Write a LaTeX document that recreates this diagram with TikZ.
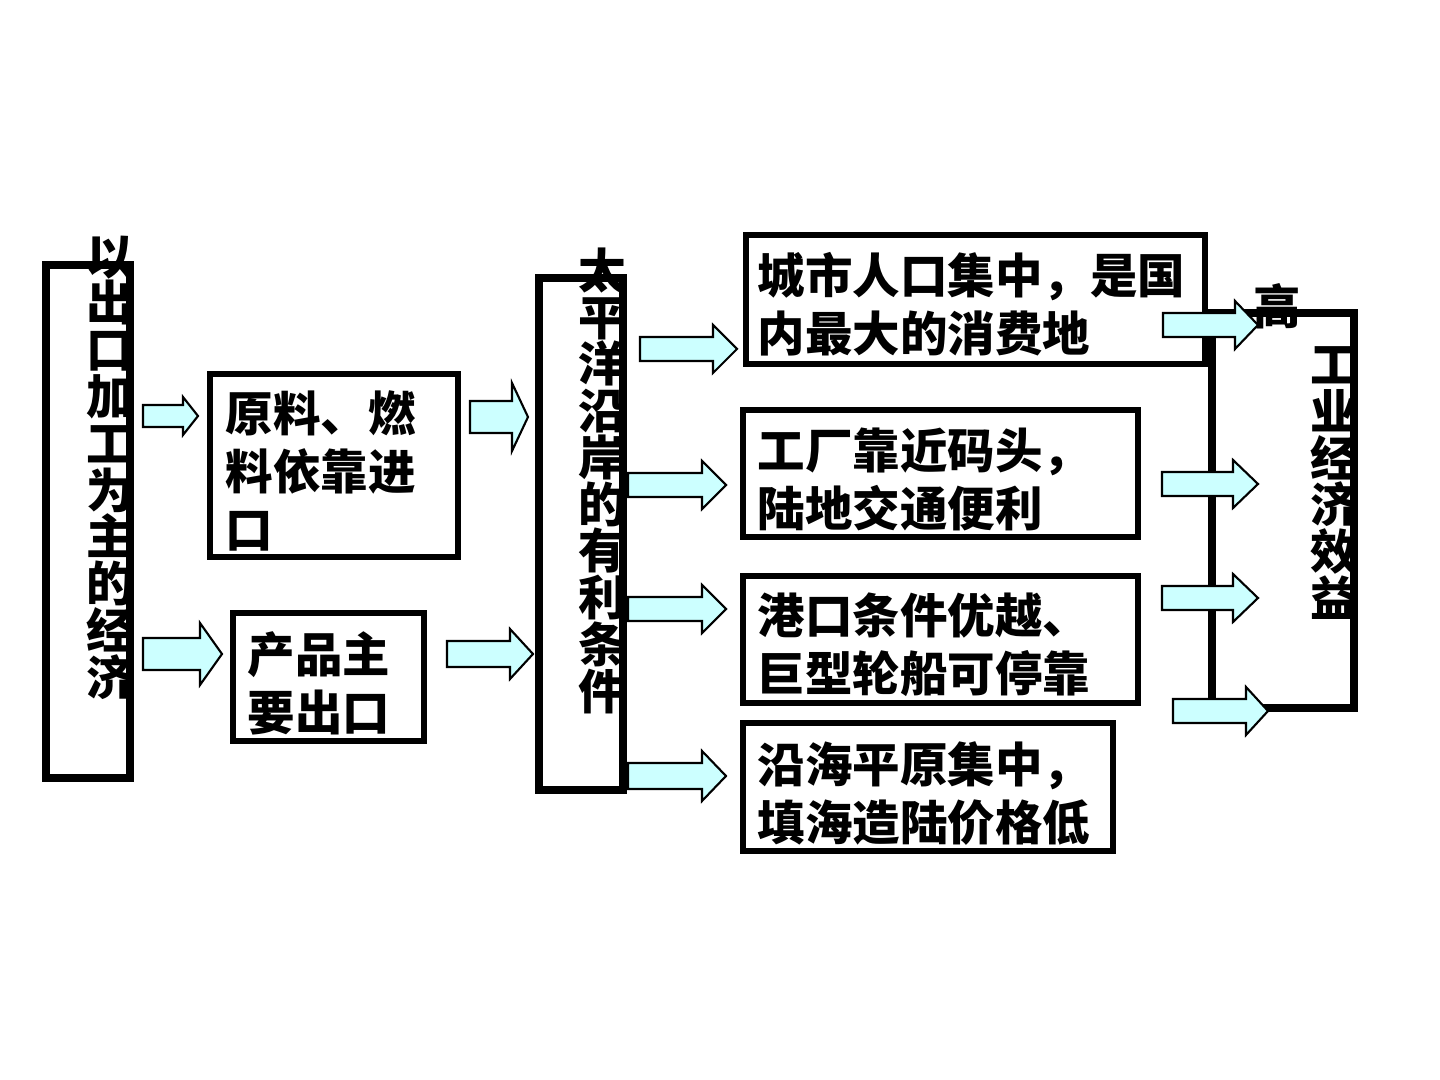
\documentclass[tikz,border=0pt]{standalone}
\usepackage{fontspec}
\setmainfont{Noto Sans CJK SC}

\definecolor{arrowcyan}{RGB}{204,255,255}

% block arrow: tail x, head start x, tip x, mid y, shaft half, head half
\newcommand{\blockarrow}[6]{%
  \draw[arrowline] (#1,#4-#5) -- (#2,#4-#5) -- (#2,#4-#6) -- (#3,#4)
    -- (#2,#4+#6) -- (#2,#4+#5) -- (#1,#4+#5) -- cycle;}

\begin{document}
\begin{tikzpicture}[x=0.01cm, y=-0.01cm,
  boxtext/.style={anchor=north west, inner sep=0pt, align=left,
    font=\fontsize{13.5}{16.5}\selectfont\bfseries},
  vtext/.style={anchor=north, inner sep=0pt, align=center,
    font=\fontsize{13.5}{13.3}\selectfont\bfseries},
  thinbox/.style={line width=1.6pt},
  tallbox/.style={line width=2.3pt},
  arrowline/.style={draw=black, line width=0.6pt, fill=arrowcyan}]

\useasboundingbox (0,0) rectangle (1440,1080);

% Corners of the boxes
\coordinate (L1) at (46,265);   \coordinate (L2) at (130,778);
\coordinate (M1) at (539,278);  \coordinate (M2) at (623,790);
\coordinate (R1) at (1212,313); \coordinate (R2) at (1354,708);
\coordinate (Y1) at (210,374);  \coordinate (Y2) at (458,557);
\coordinate (C1) at (233,613);  \coordinate (C2) at (424,741);
\coordinate (S1) at (746,235);  \coordinate (S2) at (1205,364);
\coordinate (G1) at (743,410);  \coordinate (G2) at (1138,537);
\coordinate (K1) at (743,576);  \coordinate (K2) at (1138,703);
\coordinate (P1) at (743,723);  \coordinate (P2) at (1113,851);

% Vertical labels
\node[vtext] (jingji) at (110,235) {以\\出\\口\\加\\工\\为\\主\\的\\经\\济};
\node[vtext] (taipingyang) at (602,247) {太\\平\\洋\\沿\\岸\\的\\有\\利\\条\\件};
\node[vtext] (gao) at (1277,283) {高};
\node[vtext] (xiaoyi) at (1334,346) {工\\业\\经\\济\\效\\益};

% Box texts
\node[boxtext] (yuanliao) at (225,390) {原料、燃\\料依靠进\\口};
\node[boxtext] (chanpin) at (247,631) {产品主\\要出口};
\node[boxtext] (chengshi) at (757,252) {城市人口集中，是国\\内最大的消费地};
\node[boxtext] (gongchang) at (757,427) {工厂靠近码头，\\陆地交通便利};
\node[boxtext] (gangkou) at (757,592) {港口条件优越、\\巨型轮船可停靠};
\node[boxtext] (yanhai) at (757,741) {沿海平原集中，\\填海造陆价格低};

% Draw the boxes
\draw[tallbox] (L1) rectangle (L2);
\draw[tallbox] (M1) rectangle (M2);
\draw[tallbox] (R1) rectangle (R2);
\draw[thinbox] (Y1) rectangle (Y2);
\draw[thinbox] (C1) rectangle (C2);
\draw[thinbox] (S1) rectangle (S2);
\draw[thinbox] (G1) rectangle (G2);
\draw[thinbox] (K1) rectangle (K2);
\draw[thinbox] (P1) rectangle (P2);

% Arrows
\blockarrow{143}{183}{198}{416}{11}{19}
\blockarrow{143}{200}{222}{654}{16}{31}
\blockarrow{470}{512}{528}{417}{16}{34}
\blockarrow{447}{510}{533}{654}{13}{25}
\blockarrow{640}{713}{737}{349}{12}{24}
\blockarrow{628}{702}{726}{485}{12}{24}
\blockarrow{628}{702}{726}{609}{12}{24}
\blockarrow{628}{702}{726}{776}{13}{25}
\blockarrow{1163}{1235}{1258}{325}{12}{24}
\blockarrow{1162}{1233}{1258}{484}{12}{24}
\blockarrow{1162}{1233}{1258}{598}{12}{24}
\blockarrow{1173}{1246}{1268}{711}{12}{24}

\end{tikzpicture}
\end{document}
